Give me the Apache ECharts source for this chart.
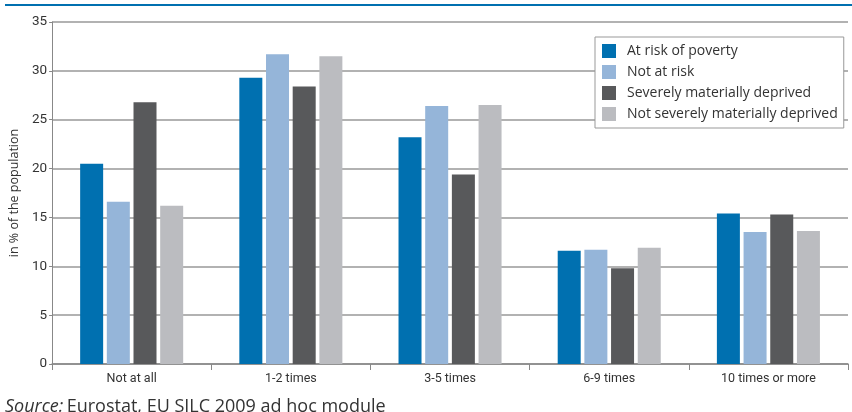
<!DOCTYPE html>
<html><head><meta charset="utf-8">
<script src="https://cdn.jsdelivr.net/npm/echarts@6/dist/echarts.min.js"></script>
<style>html,body{margin:0;padding:0;background:#fff}#c{width:852px;height:412px}</style>
</head><body><div id="c"></div>
<script>
const categories = ['Not at all', '1-2 times', '3-5 times', '6-9 times', '10 times or more'];
const seriesNames = ['At risk of poverty', 'Not at risk', 'Severely materially deprived', 'Not severely materially deprived'];
const atRisk = [20.5, 29.3, 23.2, 11.6, 15.4];
const notAtRisk = [16.6, 31.7, 26.4, 11.7, 13.5];
const severelyDeprived = [26.8, 28.4, 19.4, 9.8, 15.3];
const notSeverelyDeprived = [16.2, 31.5, 26.5, 11.9, 13.6];
const yTicks = [0, 5, 10, 15, 20, 25, 30, 35];
const colors = ['#0070b0', '#95b5d9', '#58595b', '#bbbcc0'];
const values = [atRisk, notAtRisk, severelyDeprived, notSeverelyDeprived];

const chart = echarts.init(document.getElementById('c'));
chart.setOption({
  animation: false,
  textStyle: { fontFamily: 'Open Sans' },
  graphic: [
    { type: 'rect', shape: { x: 5, y: 4, width: 847, height: 2 }, style: { fill: '#0070b0' } },
    { type: 'text', left: 5, top: 398, style: {
      rich: { i: { fontStyle: 'italic', fontSize: 18, fontFamily: 'Open Sans', fill: '#333' },
              n: { fontSize: 18, fontFamily: 'Open Sans', fill: '#333' } },
      text: '{i|Source:} {n|Eurostat, EU SILC 2009 ad hoc module}' } }
  ],
  legend: {
    orient: 'vertical', left: 595, top: 37,
    padding: [7, 6, 7, 7],
    icon: 'rect',
    itemWidth: 14, itemHeight: 14, itemGap: 7,
    borderColor: '#999', borderWidth: 1, backgroundColor: '#fff',
    textStyle: { fontSize: 14, color: '#333', fontFamily: 'Open Sans', padding: [0, 0, 0, 6] },
    data: seriesNames
  },
  grid: { left: 52, right: 4, top: 22, bottom: 48 },
  xAxis: {
    type: 'category', data: categories,
    axisLine: { lineStyle: { color: '#888', width: 1.5 } },
    axisTick: { show: true, length: 6, lineStyle: { color: '#888' } },
    axisLabel: { fontSize: 12.5, color: '#333', fontFamily: 'Roboto', margin: 8 }
  },
  yAxis: {
    type: 'value', min: 0, max: 35, interval: 5,
    name: 'in % of the population', nameLocation: 'middle', nameGap: 27, nameRotate: 90,
    nameTextStyle: { fontSize: 12.5, color: '#333' },
    axisLine: { show: true, lineStyle: { color: '#888', width: 1 } },
    axisTick: { show: true, length: 3, lineStyle: { color: '#888' } },
    axisLabel: { fontSize: 13.5, color: '#333', margin: 5, fontFamily: 'Roboto',
      formatter: v => yTicks.includes(v) ? String(v) : '' },
    splitLine: { lineStyle: { color: '#999', width: 1.5 } }
  },
  series: seriesNames.map((n, i) => ({
    name: n, type: 'bar', data: values[i], barWidth: 23, barGap: '16%',
    itemStyle: { color: colors[i] }
  }))
});
</script></body></html>
